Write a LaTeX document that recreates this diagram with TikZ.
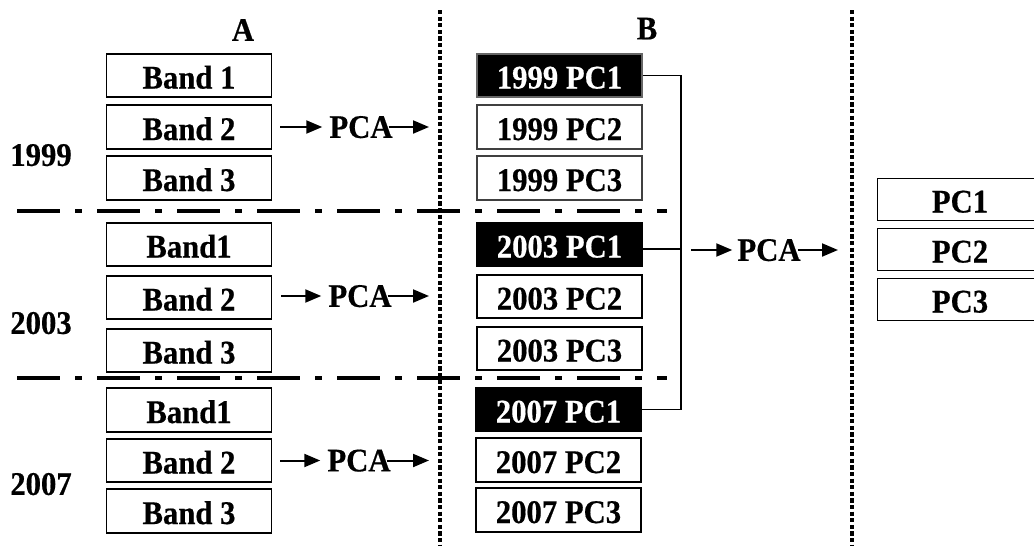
\documentclass[tikz,border=0pt]{standalone}
\usepackage{fontspec}
\setmainfont{Liberation Serif}[FakeStretch=0.93,BoldFeatures={FakeBold=0.5}]
\usetikzlibrary{arrows.meta,calc}
\begin{document}
\begin{tikzpicture}[x=1pt,y=-1pt,
  font=\fontsize{33}{38}\selectfont\bfseries,
  box/.style={draw=black,line width=1.6pt,minimum width=165pt,minimum height=43.5pt,inner sep=0pt,text height=26pt,text depth=0pt},
  gbox/.style={box,draw=black!75},
  bbox/.style={box,fill=black,text=white},
  lab/.style={inner sep=0pt,text height=21.8pt,text depth=0pt},
  arr/.style={line width=2pt,-{Triangle[length=16pt,width=13pt]}},
  conn/.style={line width=1.8pt},
  sepline/.style={line width=4pt,dash pattern=on 43pt off 15pt on 7pt off 15pt},
  vdot/.style={line width=4.2pt,dash pattern=on 4.2pt off 2.4pt}]
\useasboundingbox (0,0) rectangle (1034,546);
\clip (0,0) rectangle (1034,546);

% vertical dotted separators
\coordinate (v1t) at (440,10); \coordinate (v1b) at (440,546);
\coordinate (v2t) at (852,10); \coordinate (v2b) at (852,546);
\draw[vdot] (v1t) -- (v1b);
\draw[vdot] (v2t) -- (v2b);

% horizontal dash-dot separators
\coordinate (s1l) at (17,211); \coordinate (s1r) at (667,211);
\coordinate (s2l) at (17,378); \coordinate (s2r) at (667,378);
\draw[sepline] (s1l) -- (s1r);
\draw[sepline] (s2l) -- (s2r);

% headings
\node[lab] (hA) at (243,30) {A};
\node[lab] (hB) at (647,28.5) {B};
\node[lab] (y99) at (41,155) {1999};
\node[lab] (y03) at (41,323) {2003};
\node[lab] (y07) at (41,484) {2007};

% column A
\node[box] (a99a) at (189,75.5) {Band 1};
\node[box] (a99b) at (189,127) {Band 2};
\node[box] (a99c) at (189,178) {Band 3};
\node[box] (a03a) at (189,244.5) {Band1};
\node[box] (a03b) at (189,297.5) {Band 2};
\node[box] (a03c) at (189,350.5) {Band 3};
\node[box] (a07a) at (189,410) {Band1};
\node[box] (a07b) at (189,460.5) {Band 2};
\node[box] (a07c) at (189,511) {Band 3};

% column B
\node[bbox,draw=black!60] (b99a) at (559.5,75.5) {1999 PC1};
\node[gbox] (b99b) at (559.5,127) {1999 PC2};
\node[gbox] (b99c) at (559.5,178) {1999 PC3};
\node[bbox] (b03a) at (559.5,244.5) {2003 PC1};
\node[box] (b03b) at (559.5,296.5) {2003 PC2};
\node[box] (b03c) at (559.5,348.5) {2003 PC3};
\node[bbox] (b07a) at (558.5,409.5) {2007 PC1};
\node[box] (b07b) at (558.5,460) {2007 PC2};
\node[box] (b07c) at (558.5,510) {2007 PC3};

% right column
\node[box,minimum height=42pt] (c1) at (960,199.5) {PC1};
\node[box,minimum height=42pt] (c2) at (960,249.5) {PC2};
\node[box,minimum height=42pt] (c3) at (960,299.5) {PC3};

% PCA steps in column A
\node[lab] (p99) at (361,127) {PCA};
\node[lab] (p03) at (360,296) {PCA};
\node[lab] (p07) at (359,460.5) {PCA};
\coordinate (e99) at (429,127);
\coordinate (e03) at (429,296);
\coordinate (e07) at (429,460.5);
\draw[arr,shorten <=8pt,shorten >=7pt] (a99b.east) -- (p99.west);
\draw[arr,shorten <=-4pt] (p99.east) -- (e99);
\draw[arr,shorten <=9pt,shorten >=7pt] (a03b.east |- p03.west) -- (p03.west);
\draw[arr,shorten <=-4pt] (p03.east) -- (e03);
\draw[arr,shorten <=8pt,shorten >=7pt] (a07b.east) -- (p07.west);
\draw[arr,shorten <=-4pt] (p07.east) -- (e07);

% bracket joining the PC1 images
\coordinate (brk) at (681,0);
\coordinate (brkm) at (681,250);
\draw[conn] (b99a.east) -- (b99a.east -| brk) -- (b07a.east -| brk) -- (b07a.east);
\draw[conn] ([yshift=-4.5pt]b03a.east) -- ([yshift=-4.5pt]b03a.east -| brk);

% final PCA
\node[lab] (p4) at (769,250) {PCA};
\coordinate (e4) at (838,250);
\draw[arr,shorten <=10pt,shorten >=5pt] (brkm) -- (p4.west);
\draw[arr,shorten <=-3pt] (p4.east) -- (e4);
\end{tikzpicture}
\end{document}
